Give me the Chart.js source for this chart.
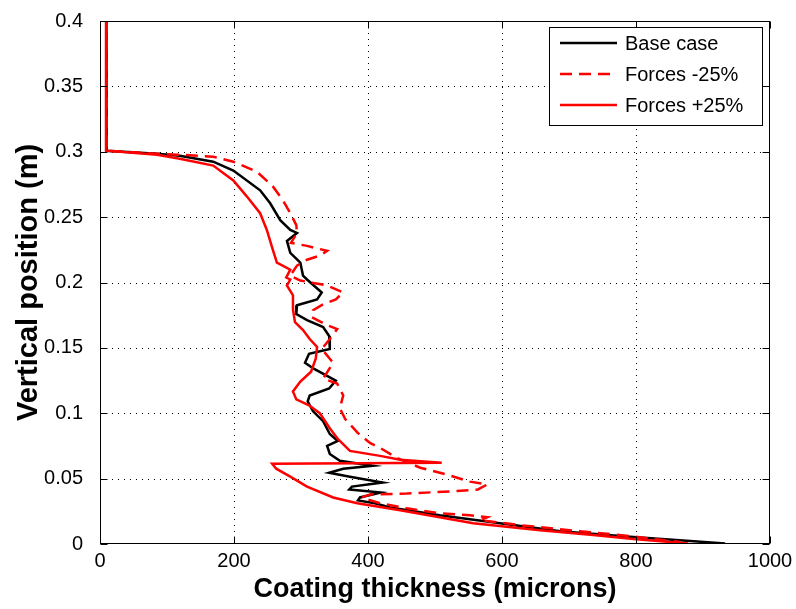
<!DOCTYPE html>
<html>
<head>
<meta charset="utf-8">
<script src="https://cdn.jsdelivr.net/npm/chart.js@4.4.1/dist/chart.umd.min.js"></script>
<style>
html,body{margin:0;padding:0;background:#fff;}
#wrap{width:796px;height:609px;position:relative;}
</style>
</head>
<body>
<div id="wrap"><canvas id="c" width="796" height="609"></canvas></div>
<script>
// ---- Data (thickness in microns, vertical position in m) ----
const seriesNames = ["Base case", "Forces -25%", "Forces +25%"];
const xTicks = [0, 200, 400, 600, 800, 1000];
const yTicks = [0, 0.05, 0.1, 0.15, 0.2, 0.25, 0.3, 0.35, 0.4];

const baseThickness = [10,10,85,119,169,199,239,254,269,284,294,279,284,299,303,309,331,324,294,293,309,333,342,343,312,306,319,352,342,313,310,318,333,343,355,339,343,358,407,363,342,373,422,376,372,419,388,385,410,433,507,597,687,796,881,933];
const basePosition = [0.4,0.3008,0.2985,0.297,0.2924,0.2856,0.2705,0.2606,0.2477,0.2402,0.2379,0.2318,0.2227,0.2152,0.2053,0.2023,0.1924,0.1871,0.1826,0.1758,0.1712,0.1659,0.1591,0.1492,0.1455,0.1386,0.1341,0.125,0.1189,0.1136,0.1091,0.1015,0.0939,0.0841,0.0788,0.075,0.0689,0.0636,0.0598,0.0576,0.0545,0.0515,0.047,0.0439,0.0417,0.0394,0.0356,0.0333,0.0311,0.028,0.022,0.0159,0.0098,0.0053,0.0023,0.0004];

const minusThickness = [10,10,85,119,169,199,234,258,273,284,293,294,285,309,339,328,309,294,284,299,339,363,352,333,318,316,339,354,343,331,343,348,333,354,363,358,366,385,403,418,443,478,518,552,578,564,522,458,403,391,418,458,507,552,578,567,627,716,791,866];
const minusPosition = [0.4,0.3008,0.2985,0.2977,0.2962,0.2924,0.2848,0.2735,0.2629,0.253,0.2439,0.2379,0.2303,0.228,0.2242,0.2205,0.2174,0.2129,0.2053,0.2015,0.1977,0.1924,0.1871,0.1833,0.1788,0.1735,0.1674,0.1644,0.1568,0.1492,0.1417,0.1386,0.1265,0.1227,0.1136,0.1038,0.0955,0.0848,0.0773,0.0735,0.0659,0.0583,0.053,0.0477,0.0455,0.0417,0.0402,0.0386,0.0379,0.0356,0.0311,0.0273,0.0235,0.022,0.0205,0.0182,0.0144,0.0098,0.0061,0.0015];

const plusThickness = [10,9,85,119,169,199,219,239,249,258,264,284,278,284,279,288,288,291,303,313,324,322,315,299,288,293,312,328,343,355,373,418,448,510,257,263,284,309,348,384,448,557,657,736,796,878];
const plusPosition = [0.4,0.3008,0.2977,0.2947,0.2894,0.278,0.2659,0.253,0.2402,0.225,0.2152,0.2098,0.2038,0.2023,0.1977,0.1902,0.1795,0.1697,0.1636,0.1568,0.1508,0.1417,0.1318,0.1242,0.1167,0.1106,0.1061,0.1,0.0886,0.0803,0.0712,0.0674,0.0644,0.0621,0.0614,0.0576,0.0515,0.0439,0.0356,0.0311,0.0258,0.0159,0.0106,0.0068,0.0038,0.0004];

function pts(xs, ys){ return xs.map((x,i)=>({x:x, y:ys[i]})); }

const FONT = '"Liberation Sans", Arial, Helvetica, sans-serif';
const DASH = [12,7];

const frame = {
  id: 'frame',
  beforeDatasetsDraw(chart){
    const {ctx, chartArea:a, scales:{x, y}} = chart;
    ctx.save();
    ctx.strokeStyle = '#000';
    ctx.lineWidth = 1;
    ctx.setLineDash([1,5]);
    xTicks.forEach(v=>{
      if (v===xTicks[0] || v===xTicks[xTicks.length-1]) return;
      const px = Math.round(x.getPixelForValue(v))+0.5;
      ctx.beginPath(); ctx.moveTo(px, a.bottom); ctx.lineTo(px, a.top); ctx.stroke();
    });
    yTicks.forEach(v=>{
      if (v===yTicks[0] || v===yTicks[yTicks.length-1]) return;
      const py = Math.round(y.getPixelForValue(v))+0.5;
      ctx.beginPath(); ctx.moveTo(a.left, py); ctx.lineTo(a.right, py); ctx.stroke();
    });
    ctx.restore();
  },
  afterDatasetsDraw(chart){
    const {ctx, chartArea:a, scales:{x, y}} = chart;
    ctx.save();
    ctx.setLineDash([]);
    ctx.strokeStyle = '#000';
    ctx.lineWidth = 1;
    const L = Math.round(a.left)+0.5, R = Math.round(a.right)-0.5, T = Math.round(a.top)+0.5, B = Math.round(a.bottom)-0.5;
    ctx.strokeRect(L, T, R-L, B-T);
    const tl = 7;
    xTicks.forEach(v=>{
      const px = Math.round(x.getPixelForValue(v))+0.5;
      ctx.beginPath(); ctx.moveTo(px, B); ctx.lineTo(px, B-tl); ctx.stroke();
      ctx.beginPath(); ctx.moveTo(px, T); ctx.lineTo(px, T+tl); ctx.stroke();
    });
    yTicks.forEach(v=>{
      const py = Math.round(y.getPixelForValue(v))+0.5;
      ctx.beginPath(); ctx.moveTo(L, py); ctx.lineTo(L+tl, py); ctx.stroke();
      ctx.beginPath(); ctx.moveTo(R, py); ctx.lineTo(R-tl, py); ctx.stroke();
    });
    // legend
    const lx = 549.5, ly = 27.5, lw = 213, lh = 98;
    ctx.fillStyle = '#fff';
    ctx.fillRect(lx, ly, lw, lh);
    ctx.strokeRect(lx, ly, lw, lh);
    const rows = [43, 74, 105];
    const styles = [{c:'#000', d:[]}, {c:'#ff0000', d:DASH}, {c:'#ff0000', d:[]}];
    ctx.font = '20px ' + FONT;
    ctx.textBaseline = 'middle';
    ctx.textAlign = 'left';
    rows.forEach((ry, i)=>{
      ctx.strokeStyle = styles[i].c;
      ctx.lineWidth = 2.5;
      ctx.setLineDash(styles[i].d);
      ctx.beginPath(); ctx.moveTo(560, ry); ctx.lineTo(617, ry); ctx.stroke();
      ctx.fillStyle = '#000';
      ctx.fillText(seriesNames[i], 625, ry+1);
    });
    ctx.restore();
  }
};

new Chart(document.getElementById('c'), {
  type: 'scatter',
  data: {
    datasets: [
      {label: seriesNames[0], data: pts(baseThickness, basePosition), showLine: true, borderColor: '#000', borderWidth: 2.5, pointRadius: 0, order: 3, tension: 0},
      {label: seriesNames[1], data: pts(minusThickness, minusPosition), showLine: true, borderColor: '#ff0000', borderWidth: 2.5, borderDash: DASH, pointRadius: 0, order: 2, tension: 0},
      {label: seriesNames[2], data: pts(plusThickness, plusPosition), showLine: true, borderColor: '#ff0000', borderWidth: 2.5, pointRadius: 0, order: 1, tension: 0}
    ]
  },
  options: {
    responsive: false,
    animation: false,
    layout: {padding: {left: 0, top: 16, right: 26, bottom: 0}},
    plugins: {legend: {display: false}, tooltip: {enabled: false}},
    scales: {
      x: {
        type: 'linear', min: 0, max: 1000,
        afterBuildTicks(s){ s.ticks = xTicks.map(v=>({value:v})); },
        afterFit(s){ s.height = 65; },
        grid: {display: false}, border: {display: false},
        ticks: {color: '#000', font: {family: FONT, size: 20}, padding: -3, maxRotation: 0, callback: v => String(v)},
        title: {display: true, text: 'Coating thickness (microns)', color: '#000', font: {family: FONT, size: 27, weight: 'bold'}, padding: {top: 0, bottom: 3}}
      },
      y: {
        type: 'linear', min: 0, max: 0.4,
        afterBuildTicks(s){ s.ticks = yTicks.map(v=>({value:v})); },
        afterFit(s){ s.width = 100; },
        grid: {display: false}, border: {display: false},
        ticks: {color: '#000', font: {family: FONT, size: 20}, padding: 9, callback: v => String(v)},
        title: {display: true, text: 'Vertical position (m)', color: '#000', font: {family: FONT, size: 29, weight: 'bold'}, padding: {top: 12, bottom: 0}}
      }
    }
  },
  plugins: [frame]
});
</script>
</body>
</html>
